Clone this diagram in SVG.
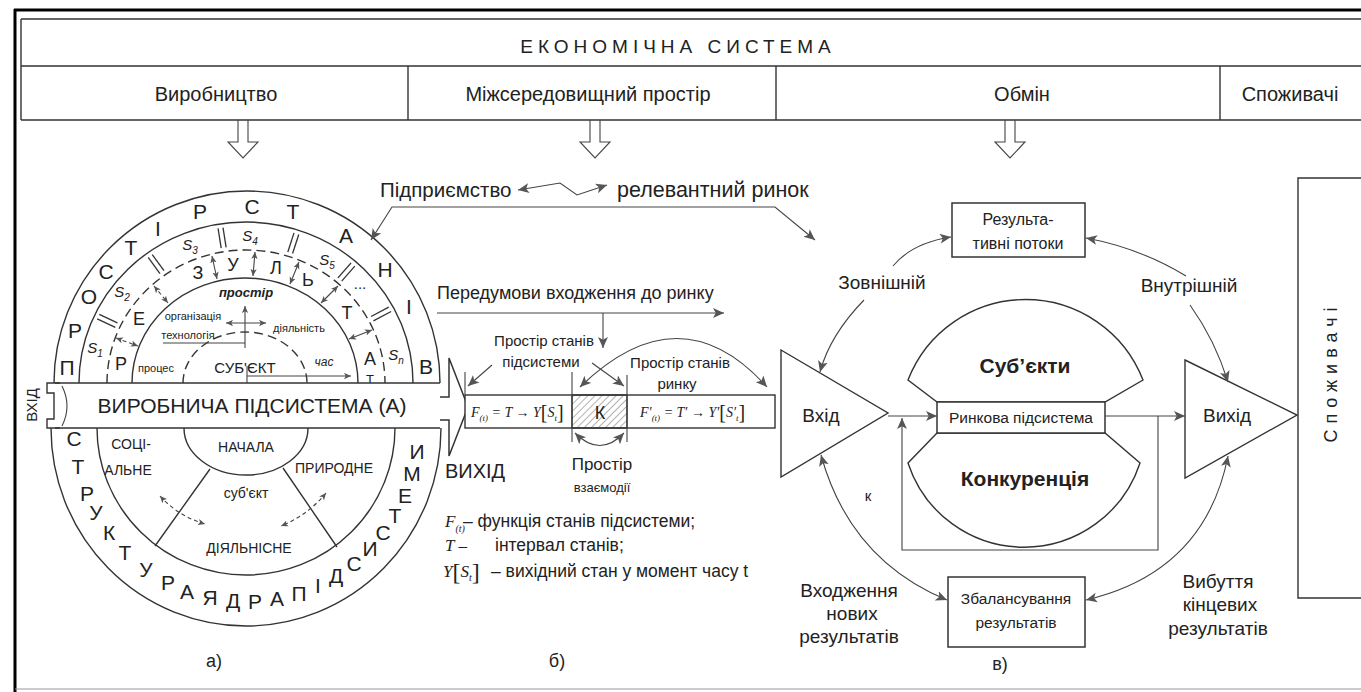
<svg xmlns="http://www.w3.org/2000/svg" width="1361" height="692" viewBox="0 0 1361 692">
<style>
text{font-family:"Liberation Sans",Arial,sans-serif;fill:#222}
.c{text-anchor:middle}
.ln{fill:none;stroke:#333;stroke-width:1.4}
.lt{fill:none;stroke:#444;stroke-width:1.1}
.dash{stroke-dasharray:9 5}
.dsh2{stroke-dasharray:4 3}
.wb{fill:#fff;stroke:#333;stroke-width:1.5}
.m{font-family:"Liberation Serif",serif;font-style:italic}
.ar{marker-end:url(#a)}
.ar2{marker-start:url(#a);marker-end:url(#a)}
.sa2{marker-start:url(#s);marker-end:url(#s)}
.sa{marker-end:url(#s)}
.L{font-size:21px;text-anchor:middle}
.R{font-size:18px;text-anchor:middle}
.sl{font-size:15px;font-style:italic;text-anchor:middle}
.h{font-size:20px;text-anchor:middle}
.lb{font-size:19px;text-anchor:middle}
</style>
<defs>
<marker id="a" viewBox="0 0 10 10" refX="10" refY="5" markerWidth="11" markerHeight="11" markerUnits="userSpaceOnUse" orient="auto-start-reverse"><path d="M0,0.5 L10,5 L0,9.5 L2.5,5 Z" fill="#555"/></marker>
<marker id="s" viewBox="0 0 10 10" refX="10" refY="5" markerWidth="7" markerHeight="7" markerUnits="userSpaceOnUse" orient="auto-start-reverse"><path d="M0,0.5 L10,5 L0,9.5 L2.5,5 Z" fill="#555"/></marker>
<pattern id="hatch" width="5" height="5" patternUnits="userSpaceOnUse" patternTransform="rotate(45)"><line x1="0" y1="0" x2="0" y2="5" stroke="#666" stroke-width="1"/></pattern>
<g id="sep"><line x1="-2.5" y1="-10" x2="-2.5" y2="10" stroke="#333" stroke-width="1.3"/><line x1="2.5" y1="-10" x2="2.5" y2="10" stroke="#333" stroke-width="1.3"/></g>
</defs>
<rect width="1361" height="692" fill="#fff"/>

<g id="frame">
<line x1="14" y1="10" x2="1361" y2="10" stroke="#000" stroke-width="3"/>
<line x1="15" y1="9" x2="15" y2="692" stroke="#000" stroke-width="3"/>
<line x1="15" y1="689" x2="1361" y2="689" stroke="#999" stroke-width="1"/>
</g>

<g id="header">
<path class="ln" d="M21,19 H1361 M21,66 H1361 M21,120 H1361 M21,19 V120 M408,66 V120 M776,66 V120 M1220,66 V120"/>
<text x="678" y="53" class="c" font-size="19" letter-spacing="5">ЕКОНОМІЧНА СИСТЕМА</text>
<text x="216" y="101" class="h">Виробництво</text>
<text x="588" y="101" class="h">Міжсередовищний простір</text>
<text x="1022" y="101" class="h">Обмін</text>
<text x="1290" y="101" class="h">Споживачі</text>
<path class="lt" fill="#fff" d="M238,120 V142 H228 L243,158 L258,142 H248 V120"/>
<path class="lt" fill="#fff" d="M590,120 V142 H580 L595,158 L610,142 H600 V120"/>
<path class="lt" fill="#fff" d="M1005,120 V142 H995 L1010,158 L1025,142 H1015 V120"/>
</g>

<g id="relation-label">
<text x="380" y="197" font-size="20.5">Підприємство</text>
<text x="617" y="197" font-size="21.5">релевантний ринок</text>
</g>

<g id="ring-diagram">
<path class="ln" d="M54,383 A193,192 0 0 1 440,383"/>
<path class="ln" d="M79,383 A167,161 0 0 1 413,383"/>
<path class="ln dash" d="M107,383 A139,133 0 0 1 385,383"/>
<path class="ln" d="M132,383 A113,105 0 0 1 358,383"/>
<path class="ln dash" d="M183,383 A62,51 0 0 1 307,383"/>
<use href="#sep" transform="translate(107.3,320.9) rotate(-65)"/>
<use href="#sep" transform="translate(156.1,264.1) rotate(-36)"/>
<use href="#sep" transform="translate(222.1,237.8) rotate(-9)"/>
<use href="#sep" transform="translate(293.3,243.2) rotate(18)"/>
<use href="#sep" transform="translate(346.4,272) rotate(41)"/>
<use href="#sep" transform="translate(381.1,314) rotate(62)"/>
<g id="word-prostir-staniv">
<text class="L" x="67" y="375">П</text><text class="L" x="75" y="338">Р</text><text class="L" x="89" y="304">О</text><text class="L" x="106" y="279">С</text><text class="L" x="131" y="255">Т</text><text class="L" x="158" y="236">І</text><text class="L" x="200" y="219">Р</text>
<text class="L" x="252" y="214">С</text><text class="L" x="293" y="219">Т</text><text class="L" x="346" y="243">А</text><text class="L" x="385" y="277">Н</text><text class="L" x="409" y="314">І</text><text class="L" x="426" y="374">В</text>
</g>
<g id="word-rezultat">
<text class="R" x="121" y="370">Р</text><text class="R" x="139" y="325">Е</text><text class="R" x="198" y="279">З</text><text class="R" x="233" y="271">У</text><text class="R" x="276" y="274">Л</text><text class="R" x="308" y="286">Ь</text><text class="R" x="347" y="319">Т</text><text class="R" x="370" y="365">А</text><text x="370" y="384" class="c" font-size="13">Т</text>
</g>
<text class="sl" x="95" y="353">S<tspan font-size="10" dy="4">1</tspan></text>
<text class="sl" x="122" y="297">S<tspan font-size="10" dy="4">2</tspan></text>
<text class="sl" x="190" y="250">S<tspan font-size="10" dy="4">3</tspan></text>
<text class="sl" x="250" y="241">S<tspan font-size="10" dy="4">4</tspan></text>
<text class="sl" x="327" y="265">S<tspan font-size="10" dy="4">5</tspan></text>
<text class="c" x="360" y="289" font-size="15">...</text>
<text class="sl" x="396" y="360">S<tspan font-size="10" dy="4">n</tspan></text>
<path class="lt dsh2 sa2" d="M116,338 L138,346"/>
<path class="lt dsh2 sa2" d="M154,286 L168,303"/>
<path class="lt sa2" d="M212,256 L217,279"/>
<path class="lt sa2" d="M255,252 L253,276"/>
<path class="lt sa2" d="M299,262 L290,284"/>
<path class="lt sa2" d="M338,286 L321,303"/>
<path class="lt sa2" d="M372,330 L349,339"/>
<text x="246" y="297" class="c" font-size="13" font-weight="bold" font-style="italic">простір</text>
<text x="193" y="320" class="c" font-size="11">організація</text>
<text x="188" y="339" class="c" font-size="11">технологія</text>
<text x="299" y="332" class="c" font-size="11">діяльність</text>
<path class="lt" d="M163,343 H245"/>
<path class="lt sa" d="M245,348 V306"/>
<path class="lt sa2" d="M226,323 H266"/>
<text x="245" y="373" class="c" font-size="15">СУБ'ЄКТ</text>
<text x="156" y="372" class="c" font-size="11">процес</text>
<text x="324" y="366" class="c" font-size="12" font-style="italic">час</text>
<path class="lt" d="M247,366 V383"/>
<path class="lt sa" d="M247,376 H351"/>
<path class="ln" d="M51,428 A195,198 0 0 0 441,428"/>
<path class="ln" d="M97,428 A149,147 0 0 0 395,428"/>
<path class="ln" d="M184,428 A62,47 0 0 0 308,428"/>
<path class="ln" d="M210,469 L155,546 M283,468 L337,547"/>
<g id="word-struktura">
<text class="L" x="74" y="446">С</text><text class="L" x="78" y="474">Т</text><text class="L" x="87" y="501">Р</text><text class="L" x="96" y="520">У</text><text class="L" x="109" y="540">К</text><text class="L" x="125" y="560">Т</text><text class="L" x="146" y="577">У</text><text class="L" x="168" y="590">Р</text><text class="L" x="187" y="599">А</text>
<text class="L" x="210" y="605">Я</text><text class="L" x="233" y="608">Д</text><text class="L" x="255" y="609">Р</text><text class="L" x="277" y="606">А</text>
<text class="L" x="299" y="601">П</text><text class="L" x="318" y="593">І</text><text class="L" x="336" y="583">Д</text><text class="L" x="354" y="571">С</text><text class="L" x="370" y="556">И</text><text class="L" x="383" y="540">С</text><text class="L" x="395" y="523">Т</text><text class="L" x="405" y="503">Е</text><text class="L" x="412" y="481">М</text><text class="L" x="417" y="459">И</text>
</g>
<text x="131" y="449" class="c" font-size="14">СОЦІ-</text>
<text x="128" y="475" class="c" font-size="14">АЛЬНЕ</text>
<text x="246" y="452" class="c" font-size="14">НАЧАЛА</text>
<text x="334" y="473" class="c" font-size="14">ПРИРОДНЕ</text>
<text x="246" y="498" class="c" font-size="14">суб'єкт</text>
<text x="249" y="553" class="c" font-size="14">ДІЯЛЬНІСНЕ</text>
<path class="lt dsh2 sa2" d="M160,496 Q178,516 205,524"/>
<path class="lt dsh2 sa2" d="M326,493 Q308,515 281,526"/>
</g>

<g id="production-bar">
<rect x="55" y="383" width="385" height="45" fill="#fff"/>
<path class="ln" d="M55,383 H440 M55,428 H440"/>
<path class="ln" fill="#fff" d="M60,383 H47 V393 H54 V419 H47 V428 H60"/>
<path class="lt" d="M62,386 Q72,406 62,426"/>
<text transform="translate(37,405) rotate(-90)" class="c" font-size="15">ВХІД</text>
<text x="252" y="413" class="c" font-size="21">ВИРОБНИЧА ПІДСИСТЕМА (А)</text>
<path class="wb" d="M440,397 H449 V358 L468,407 L449,456 V420 H440"/>
<text x="445" y="478" font-size="20">ВИХІД</text>
</g>

<g id="state-space">
<text x="437" y="299" font-size="18">Передумови входження до ринку</text>
<text x="544" y="346" class="c" font-size="15">Простір станів</text>
<text x="541" y="367" class="c" font-size="15">підсистеми</text>
<text x="680" y="368" class="c" font-size="15">Простір станів</text>
<text x="677" y="389" class="c" font-size="15">ринку</text>
<rect x="465" y="395" width="310" height="33" fill="#fff" stroke="#333" stroke-width="1.4"/>
<rect x="572" y="395" width="55" height="33" fill="url(#hatch)" stroke="#333" stroke-width="1.4"/>
<path class="lt" d="M465,372 V395 M572,372 V442 M627,375 V442"/>
<text x="600" y="419" class="c" font-size="18" fill="#555">К</text>
<text x="471" y="417" class="m" font-size="14">F<tspan font-size="9" dy="4">(t)</tspan><tspan dy="-4"> = T → Y</tspan><tspan font-style="normal" font-size="20" dy="2">[</tspan><tspan dy="-2">S</tspan><tspan font-size="9" dy="4">t</tspan><tspan font-style="normal" font-size="20" dy="-2">]</tspan></text>
<text x="640" y="417" class="m" font-size="14">F′<tspan font-size="9" dy="4">(t)</tspan><tspan dy="-4"> = T′ → Y′</tspan><tspan font-style="normal" font-size="20" dy="2">[</tspan><tspan dy="-2">S′</tspan><tspan font-size="9" dy="4">t</tspan><tspan font-style="normal" font-size="20" dy="-2">]</tspan></text>
<text x="602" y="470" class="c" font-size="17">Простір</text>
<text x="602" y="492" class="c" font-size="13">взаємодії</text>
</g>

<g id="legend">
<text x="445" y="527" class="m" font-size="17">F<tspan font-size="10" dy="5">(t)</tspan></text>
<text x="463" y="527" font-size="17.5">– функція станів підсистеми;</text>
<text x="445" y="551" class="m" font-size="17">T –</text>
<text x="495" y="551" font-size="17.5">інтервал станів;</text>
<text x="443" y="577" class="m" font-size="17">Y<tspan font-style="normal" font-size="24" dy="3">[</tspan><tspan dy="-3">S</tspan><tspan font-size="10" dy="4">t</tspan><tspan font-style="normal" font-size="24" dy="-1">]</tspan></text>
<text x="491" y="577" font-size="17.5">– вихідний стан у момент часу t</text>
</g>

<g id="vkhid"><path class="ln" fill="#fff" d="M781,350 L888,413 L781,477 Z"/><text x="821" y="422" class="c" font-size="19">Вхід</text></g>
<g id="subjekty"><path class="ln" fill="#fff" d="M937,402 L908,380 A126,126 0 0 1 1143,380 L1105,402 Z"/><text x="1025" y="373" class="c" font-size="21" font-weight="bold">Суб’єкти</text></g>
<g id="konkurentsiia"><path class="ln" fill="#fff" d="M937,433 L908,463 A122,122 0 0 0 1140,463 L1105,433 Z"/><text x="1025" y="486" class="c" font-size="21" font-weight="bold">Конкуренція</text></g>
<g id="rynkova"><rect x="937" y="402" width="168" height="31" fill="#fff" stroke="#333" stroke-width="1.5"/><text x="1021" y="423" class="c" font-size="15.5">Ринкова підсистема</text></g>
<g id="vykhid"><path class="ln" fill="#fff" d="M1185,360 L1297,415 L1185,478 Z"/><text x="1227" y="422" class="c" font-size="19">Вихід</text></g>
<g id="spozhyvachi"><path class="ln" d="M1361,178 H1298 V598 H1361"/><text transform="translate(1337,372) rotate(-90)" class="c" font-size="18" letter-spacing="6">Споживачі</text></g>
<g id="rezultatyvni"><rect x="952" y="203" width="133" height="54" fill="#fff" stroke="#333" stroke-width="1.5"/><text x="1018" y="225" class="c" font-size="16">Результа-</text><text x="1018" y="249" class="c" font-size="16">тивні потоки</text></g>
<g id="zbalansuvannia"><rect x="948" y="577" width="137" height="70" fill="#fff" stroke="#333" stroke-width="1.5"/><text x="1016" y="604" class="c" font-size="15.5">Збалансування</text><text x="1016" y="628" class="c" font-size="15.5">результатів</text></g>

<g id="market-labels">
<text x="882" y="289" class="lb">Зовнішній</text>
<text x="1189" y="292" class="lb">Внутрішній</text>
<text x="868" y="501" class="c" font-size="15">к</text>
<text x="849" y="597" class="lb">Входження</text>
<text x="852" y="620" class="lb">нових</text>
<text x="849" y="643" class="lb">результатів</text>
<text x="1218" y="588" class="lb">Вибуття</text>
<text x="1220" y="611" class="lb">кінцевих</text>
<text x="1218" y="635" class="lb">результатів</text>
</g>

<g id="captions">
<text x="214" y="667" class="c" font-size="18">а)</text>
<text x="557" y="667" class="c" font-size="18">б)</text>
<text x="1000" y="670" class="c" font-size="18">в)</text>
</g>

<g id="connectors">
<path class="lt ar2" d="M371,240 L392,207 H775 L815,240"/>
<path class="lt ar2" d="M518,190 L560,183 L577,195 L607,185"/>
<path class="lt ar" d="M437,313 H724"/>
<path class="lt ar" d="M603,313 V348"/>
<path class="lt ar" d="M492,365 L468,386"/>
<path class="lt ar" d="M592,363 L624,386"/>
<path class="lt ar2" d="M580,387 Q680,290 767,387"/>
<path class="lt ar2" d="M575,433 Q600,458 624,433"/>
<path class="lt ar" d="M888,416 H937"/>
<path class="lt ar" d="M1105,416 H1185"/>
<path class="lt ar" d="M1158,416 V550 H902 V418"/>
<path class="lt ar" d="M893,266 Q912,243 951,237"/>
<path class="lt ar" d="M864,300 Q830,335 820,372"/>
<path class="lt ar" d="M1186,276 Q1140,248 1086,238"/>
<path class="lt ar" d="M1190,305 Q1215,340 1228,382"/>
<path class="lt ar2" d="M821,455 Q850,560 947,600"/>
<path class="lt ar2" d="M1086,600 Q1205,572 1228,456"/>
</g>
</svg>
